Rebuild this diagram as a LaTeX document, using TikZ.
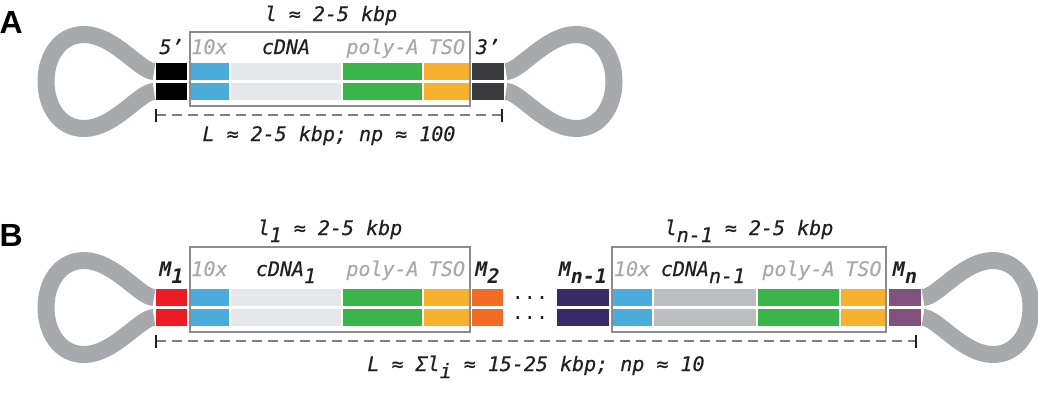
\documentclass[tikz,border=0pt]{standalone}
\usepackage{fontspec}
\newfontfamily\mono{DejaVu Sans Mono}[ItalicFeatures={FakeBold=0.4}]
\newfontfamily\panelfont{Liberation Sans}
\definecolor{tubegray}{HTML}{A7A9AC}
\definecolor{labgray}{HTML}{A7A9AC}
\definecolor{boxgray}{HTML}{8C8C8E}
\definecolor{dashgray}{HTML}{7F7F7F}
\definecolor{txtblack}{HTML}{231F20}
\definecolor{cblue}{HTML}{4AACDA}
\definecolor{clight}{HTML}{E6E7E8}
\definecolor{cmid}{HTML}{BCBDBF}
\definecolor{cgreen}{HTML}{3AB54A}
\definecolor{corange}{HTML}{F8B12E}
\definecolor{cblack}{HTML}{000000}
\definecolor{cdark}{HTML}{3A3A3C}
\definecolor{cred}{HTML}{ED1C24}
\definecolor{cred2}{HTML}{F26A24}
\definecolor{cnavy}{HTML}{362B66}
\definecolor{cpurple}{HTML}{82527F}
\newcommand\mysub[1]{\raisebox{-7pt}{#1}}
% segpair{color}{x1}{x2}{ytop}: two strands, 17 tall, 3 gap
\newcommand\segpair[4]{%
  \fill[#1] (#2,#4) rectangle (#3,#4+17);
  \fill[#1] (#2,#4+20) rectangle (#3,#4+37);}
\tikzset{
  lab/.style={font=\mono\itshape\fontsize{20}{24}\selectfont, text=txtblack, inner sep=0pt, anchor=base},
  glab/.style={lab, text=labgray},
  mlab/.style={font=\mono\bfseries\itshape\fontsize{20}{24}\selectfont, text=txtblack, inner sep=0pt, anchor=base},
  dotlab/.style={font=\mono\fontsize{20}{24}\selectfont, text=txtblack, inner sep=0pt, anchor=base},
  panel/.style={font=\panelfont\bfseries\fontsize{32}{36}\selectfont, text=black, inner sep=0pt, anchor=base west},
  tube/.style={draw=tubegray, line width=17pt, line cap=butt},
  framebox/.style={draw=boxgray, line width=1.5pt},
  dashline/.style={draw=dashgray, line width=2pt, dash pattern=on 10pt off 6pt},
  tickline/.style={draw=txtblack, line width=2pt},
  loop/.pic={
    \draw[tube] (0,-10) .. controls (-14,-10) and (-40,-47) .. (-70,-47)
      .. controls (-94,-47) and (-108,-25) .. (-108,0)
      .. controls (-108,25) and (-94,47) .. (-70,47)
      .. controls (-40,47) and (-14,10) .. (0,10);
  }
}
\begin{document}
\begin{tikzpicture}[x=1pt,y=-1pt]
\useasboundingbox (0,0) rectangle (1038,416);
% ---------------- Panel A ----------------
\node[panel] (pa) at (-0.5,33) {A};
\pic at (154,81.5) {loop};
\pic[xscale=-1] at (506,81.5) {loop};
\segpair{cblack}{156}{187}{63}
\segpair{cblue}{190}{229}{63}
\segpair{clight}{231}{341}{63}
\segpair{cgreen}{343}{422}{63}
\segpair{corange}{424}{470}{63}
\segpair{cdark}{472}{504}{63}
\draw[framebox] (190,32) rectangle (470,106);
\node[lab] (lA) at (331,21) {l ≈ 2-5 kbp};
\node[lab] (p5) at (171.5,54) {5’};
\node[glab] (xA) at (209.5,54) {10x};
\node[lab] (cA) at (286,54) {cDNA};
\node[glab] (pA) at (382.5,54) {poly-A};
\node[glab] (tA) at (447,54) {TSO};
\node[lab] (p3) at (488,54) {3’};
\coordinate (dA1) at (156,115);
\coordinate (dA2) at (502,115);
\draw[dashline] (dA1) -- (dA2);
\draw[tickline] ([yshift=6.5pt]dA1) -- ([yshift=-6.5pt]dA1);
\draw[tickline] ([yshift=6.5pt]dA2) -- ([yshift=-6.5pt]dA2);
\node[lab] (LA) at (329,141) {L ≈ 2-5 kbp; np ≈ 100};
% ---------------- Panel B ----------------
\node[panel] (pb) at (-0.5,246) {B};
\pic at (154,307.5) {loop};
\pic[xscale=-1] at (923,307.5) {loop};
\segpair{cred}{156}{187}{289}
\segpair{cblue}{190}{229}{289}
\segpair{clight}{231}{341}{289}
\segpair{cgreen}{343}{422}{289}
\segpair{corange}{424}{470}{289}
\segpair{cred2}{472}{503}{289}
\segpair{cnavy}{557}{609}{289}
\segpair{cblue}{612}{652}{289}
\segpair{cmid}{654}{756}{289}
\segpair{cgreen}{758}{839}{289}
\segpair{corange}{841}{886}{289}
\segpair{cpurple}{889}{921}{289}
\draw[framebox] (190,247) rectangle (470,332);
\draw[framebox] (612,247) rectangle (886,332);
\node[dotlab] (dots1) at (530,299.5) {...};
\node[dotlab] (dots2) at (530,319.5) {...};
\node[lab] (lB1) at (330,235) {l\mysub{1} ≈ 2-5 kbp};
\node[lab] (lB2) at (749,235) {l\mysub{n-1} ≈ 2-5 kbp};
\node[mlab] (m1) at (171.5,276) {M\mysub{1}};
\node[glab] (xB1) at (209.5,276) {10x};
\node[lab] (cB1) at (286,276) {cDNA\mysub{1}};
\node[glab] (pB1) at (382.5,276) {poly-A};
\node[glab] (tB1) at (447,276) {TSO};
\node[mlab] (m2) at (487.5,276) {M\mysub{2}};
\node[mlab] (mn1) at (583,276) {M\mysub{n-1}};
\node[glab] (xB2) at (632,276) {10x};
\node[lab] (cB2) at (703,276) {cDNA\mysub{n-1}};
\node[glab] (pB2) at (798.5,276) {poly-A};
\node[glab] (tB2) at (863.5,276) {TSO};
\node[mlab] (mn) at (905,276) {M\mysub{n}};
\coordinate (dB1) at (156,341);
\coordinate (dB2) at (916,341);
\draw[dashline] (dB1) -- (dB2);
\draw[tickline] ([yshift=6.5pt]dB1) -- ([yshift=-6.5pt]dB1);
\draw[tickline] ([yshift=6.5pt]dB2) -- ([yshift=-6.5pt]dB2);
\node[lab] (LB) at (536,371) {L ≈ Σl\mysub{i} ≈ 15-25 kbp; np ≈ 10};
\end{tikzpicture}
\end{document}
